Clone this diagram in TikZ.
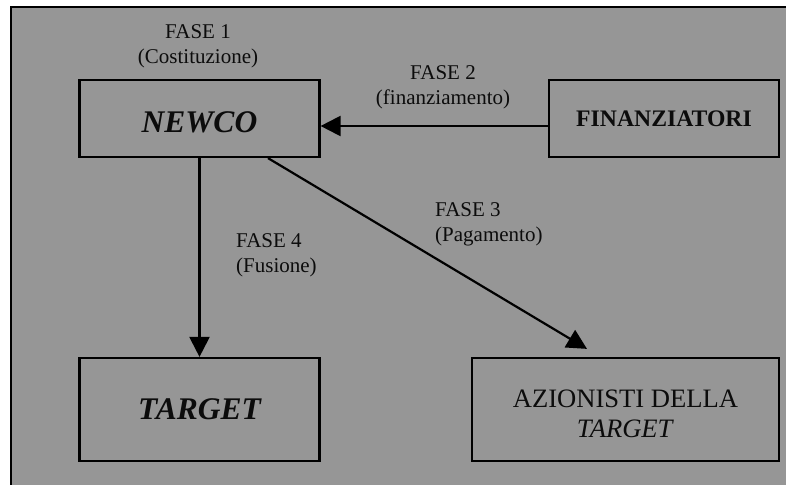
\documentclass[tikz,border=0pt]{standalone}
\usepackage{fontspec}
\setmainfont{Liberation Serif}
\usetikzlibrary{arrows.meta}
\definecolor{panel}{RGB}{150,150,150}
\definecolor{ink}{RGB}{12,12,12}
\tikzset{
  x=1pt, y=-1pt,
  box/.style={draw=black, line width=2.2pt, inner sep=0pt, text=ink},
  phase/.style={inner sep=0pt, text=ink, font=\fontsize{21}{25}\selectfont},
  arr/.style={draw=black, line width=2.2pt, -{Triangle[length=20pt,width=20pt]}, shorten >=0pt}
}
\begin{document}
\begin{tikzpicture}
  \clip (0,0) rectangle (786,484);
  \fill[white] (0,0) rectangle (786,484);
  % grey panel, running off the right and bottom edges
  \draw[fill=panel, line width=2.4pt] (11,7) rectangle (830,530);

  % boxes
  \node[box, minimum width=240pt, minimum height=77pt] (newco) at (199.5,118.5) {};
  \node[text=ink, inner sep=0pt, font=\fontsize{31.5}{36}\selectfont\bfseries\itshape]
        (newcotext) at ([yshift=-4pt]newco.center) {NEWCO};
  \node[box, minimum width=230pt, minimum height=77pt,
        font=\fontsize{23.7}{28}\selectfont\bfseries] (fin) at (664,118.5) {FINANZIATORI};
  \node[box, minimum width=240pt, minimum height=103pt,
        font=\fontsize{31.5}{36}\selectfont\bfseries\itshape] (target) at (199.5,409.5) {TARGET};
  \node[box, minimum width=307pt, minimum height=103pt] (azion) at (625.5,409.5) {};
  \node[text=ink, inner sep=0pt, align=center, font=\fontsize{26.6}{30}\selectfont]
        (aziontext) at ([yshift=-4pt]azion.center) {AZIONISTI DELLA\\\textit{TARGET}};

  % phase labels
  \node[phase, anchor=north, align=center] (f1) at (198,24) {FASE 1\\(Costituzione)};
  \node[phase, anchor=north, align=center] (f2) at (443,65) {FASE 2\\(finanziamento)};
  \node[phase, anchor=north west, align=left] (f3) at (435,202) {FASE 3\\(Pagamento)};
  \node[phase, anchor=north west, align=left] (f4) at (236,233) {FASE 4\\(Fusione)};

  % connectors
  \draw[arr] ([yshift=-7.5pt]fin.west) -- ([yshift=-7.5pt]newco.east);
  \draw[arr] (newco.south) -- (target.north);
  \draw[arr] ([xshift=68.5pt]newco.south) -- ([xshift=-38.5pt,yshift=8pt]azion.north);
\end{tikzpicture}
\end{document}
